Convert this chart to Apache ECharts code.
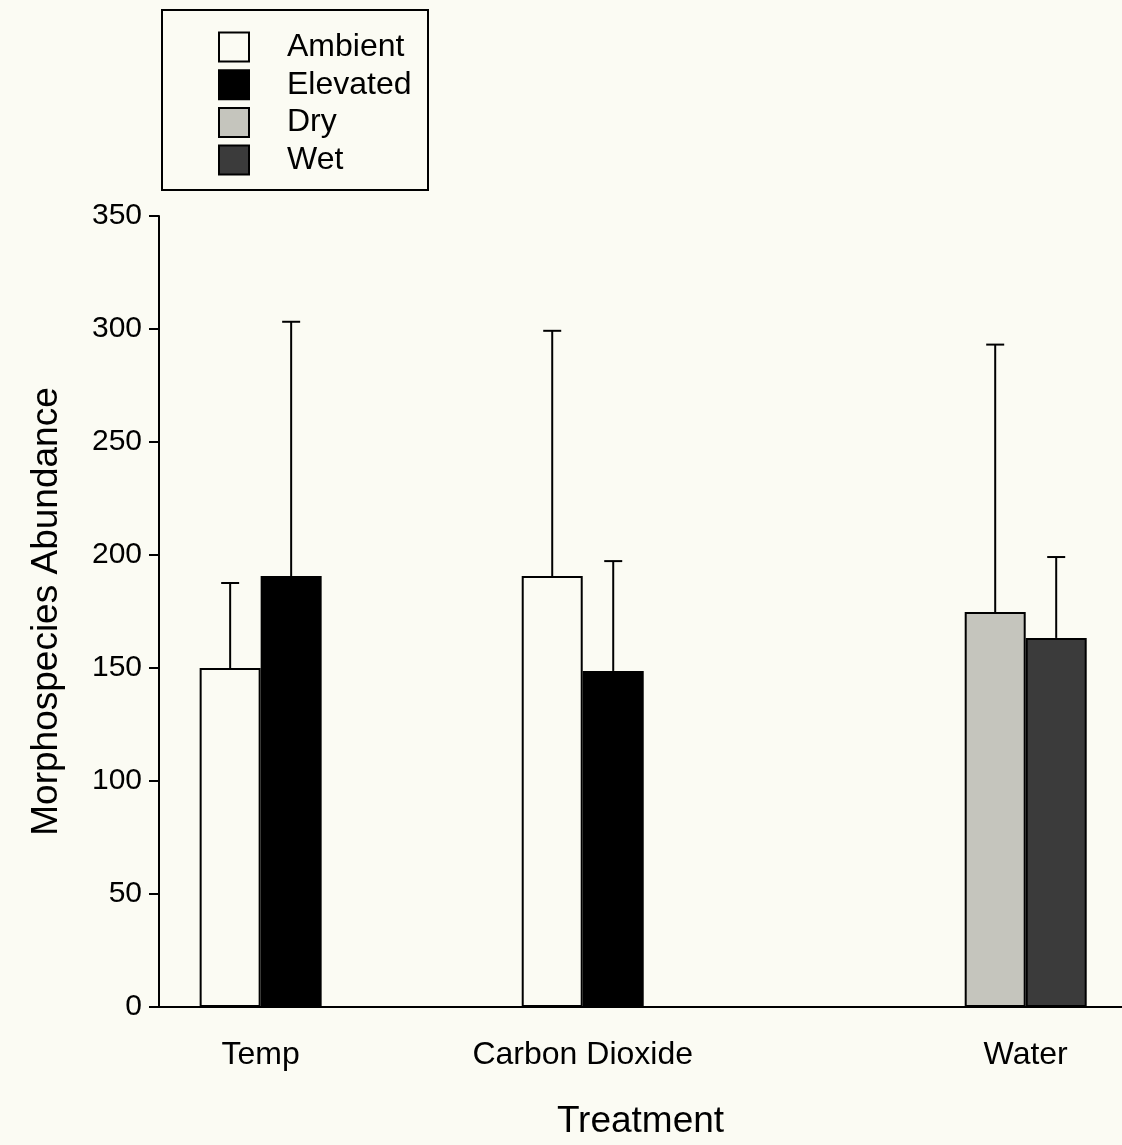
<!DOCTYPE html>
<html>
<head>
<meta charset="utf-8">
<script src="https://cdn.jsdelivr.net/npm/echarts@6/dist/echarts.min.js"></script>
<style>
  html, body { margin: 0; padding: 0; background: #fbfbf3; }
  #chart { width: 1122px; height: 1145px; }
</style>
</head>
<body>
<div id="chart"></div>
<script>
// Treatment groups and their mean abundance (with upper SE) per level
const categories = ['Temp', 'Carbon Dioxide', 'Water'];
const ambient      = [150.0, 190.7, null];
const ambientErr   = [37.6, 108.5, null];
const elevated     = [190.7, 148.7, null];
const elevatedErr  = [112.5, 48.6, null];
const dry          = [null, null, 174.8];
const dryErr       = [null, null, 118.3];
const wet          = [null, null, 163.3];
const wetErr       = [null, null, 35.8];
const yTicks = [0, 50, 100, 150, 200, 250, 300, 350];

// Layout: where each treatment group sits along the horizontal axis
const groupSlots = [0.95, 3.96, 8.1];
const BAR_W = 61;
const FONT = '"Liberation Sans", Arial, Helvetica, sans-serif';
const BG = '#fbfbf3';

function pairs(vals) {
  const out = [];
  vals.forEach((v, i) => { if (v != null) out.push([groupSlots[i], v]); });
  return out;
}
function errRows(vals, errs, side) {
  const out = [];
  vals.forEach((v, i) => { if (v != null) out.push([groupSlots[i], v, errs[i], side]); });
  return out;
}

const barStyle = (fill) => ({ color: fill, borderColor: '#000', borderWidth: 2 });

const chart = echarts.init(document.getElementById('chart'), null, { renderer: 'canvas' });

chart.setOption({
  animation: false,
  backgroundColor: BG,
  textStyle: { fontFamily: FONT, color: '#000' },
  grid: { left: 159, right: 0, top: 216, bottom: 136 },
  legend: {
    orient: 'vertical',
    left: 218,
    top: 31,
    padding: 0,
    itemWidth: 30,
    itemHeight: 29,
    itemGap: 5.7,
    icon: 'rect',
    data: ['Ambient', 'Elevated', 'Dry', 'Wet'],
    textStyle: { fontFamily: FONT, fontSize: 32, color: '#000', padding: [0, 0, 0, 33] },
    selectedMode: false
  },
  graphic: [{
    type: 'rect',
    shape: { x: 162, y: 10, width: 266, height: 180 },
    style: { fill: 'none', stroke: '#000', lineWidth: 2 },
    silent: true
  }],
  xAxis: {
    type: 'value',
    min: 0,
    max: 9,
    name: 'Treatment',
    nameLocation: 'middle',
    nameGap: 96,
    nameTextStyle: { fontFamily: FONT, fontSize: 37, color: '#000' },
    axisLine: { show: true, lineStyle: { color: '#000', width: 2 } },
    axisTick: { show: false },
    splitLine: { show: false },
    axisLabel: {
      customValues: groupSlots,
      margin: 32,
      fontFamily: FONT,
      fontSize: 32,
      color: '#000',
      formatter: (v) => {
        let best = 0;
        groupSlots.forEach((g, i) => { if (Math.abs(g - v) < Math.abs(groupSlots[best] - v)) best = i; });
        return categories[best];
      }
    }
  },
  yAxis: {
    type: 'value',
    min: yTicks[0],
    max: yTicks[yTicks.length - 1],
    interval: yTicks[1] - yTicks[0],
    name: 'Morphospecies Abundance',
    nameLocation: 'middle',
    nameGap: 94,
    nameTextStyle: { fontFamily: FONT, fontSize: 37, color: '#000' },
    axisLine: { show: true, lineStyle: { color: '#000', width: 2 } },
    axisTick: { show: true, inside: false, length: 10, lineStyle: { color: '#000', width: 2 } },
    splitLine: { show: false },
    axisLabel: { margin: 17, fontFamily: FONT, fontSize: 30, color: '#000' }
  },
  series: [
    { name: 'Ambient',  type: 'bar', stack: 'left',  barWidth: BAR_W, barGap: '0%', data: pairs(ambient),  itemStyle: barStyle(BG) },
    { name: 'Elevated', type: 'bar', stack: 'right', barWidth: BAR_W, barGap: '0%', data: pairs(elevated), itemStyle: barStyle('#000000') },
    { name: 'Dry',      type: 'bar', stack: 'left',  barWidth: BAR_W, barGap: '0%', data: pairs(dry),      itemStyle: barStyle('#c5c5bd') },
    { name: 'Wet',      type: 'bar', stack: 'right', barWidth: BAR_W, barGap: '0%', data: pairs(wet),      itemStyle: barStyle('#3b3b3b') },
    {
      name: 'error',
      type: 'custom',
      silent: true,
      z: 5,
      data: [].concat(
        errRows(ambient, ambientErr, -1),
        errRows(elevated, elevatedErr, 1),
        errRows(dry, dryErr, -1),
        errRows(wet, wetErr, 1)
      ),
      renderItem: function (params, api) {
        const x = api.value(0), mean = api.value(1), err = api.value(2), side = api.value(3);
        const base = api.coord([x, mean]);
        const top = api.coord([x, mean + err]);
        const cx = base[0] + side * BAR_W / 2;
        const st = { stroke: '#000', lineWidth: 2 };
        return {
          type: 'group',
          children: [
            { type: 'line', shape: { x1: cx, y1: base[1], x2: cx, y2: top[1] }, style: st },
            { type: 'line', shape: { x1: cx - 9, y1: top[1], x2: cx + 9, y2: top[1] }, style: st }
          ]
        };
      }
    }
  ]
});
</script>
</body>
</html>
